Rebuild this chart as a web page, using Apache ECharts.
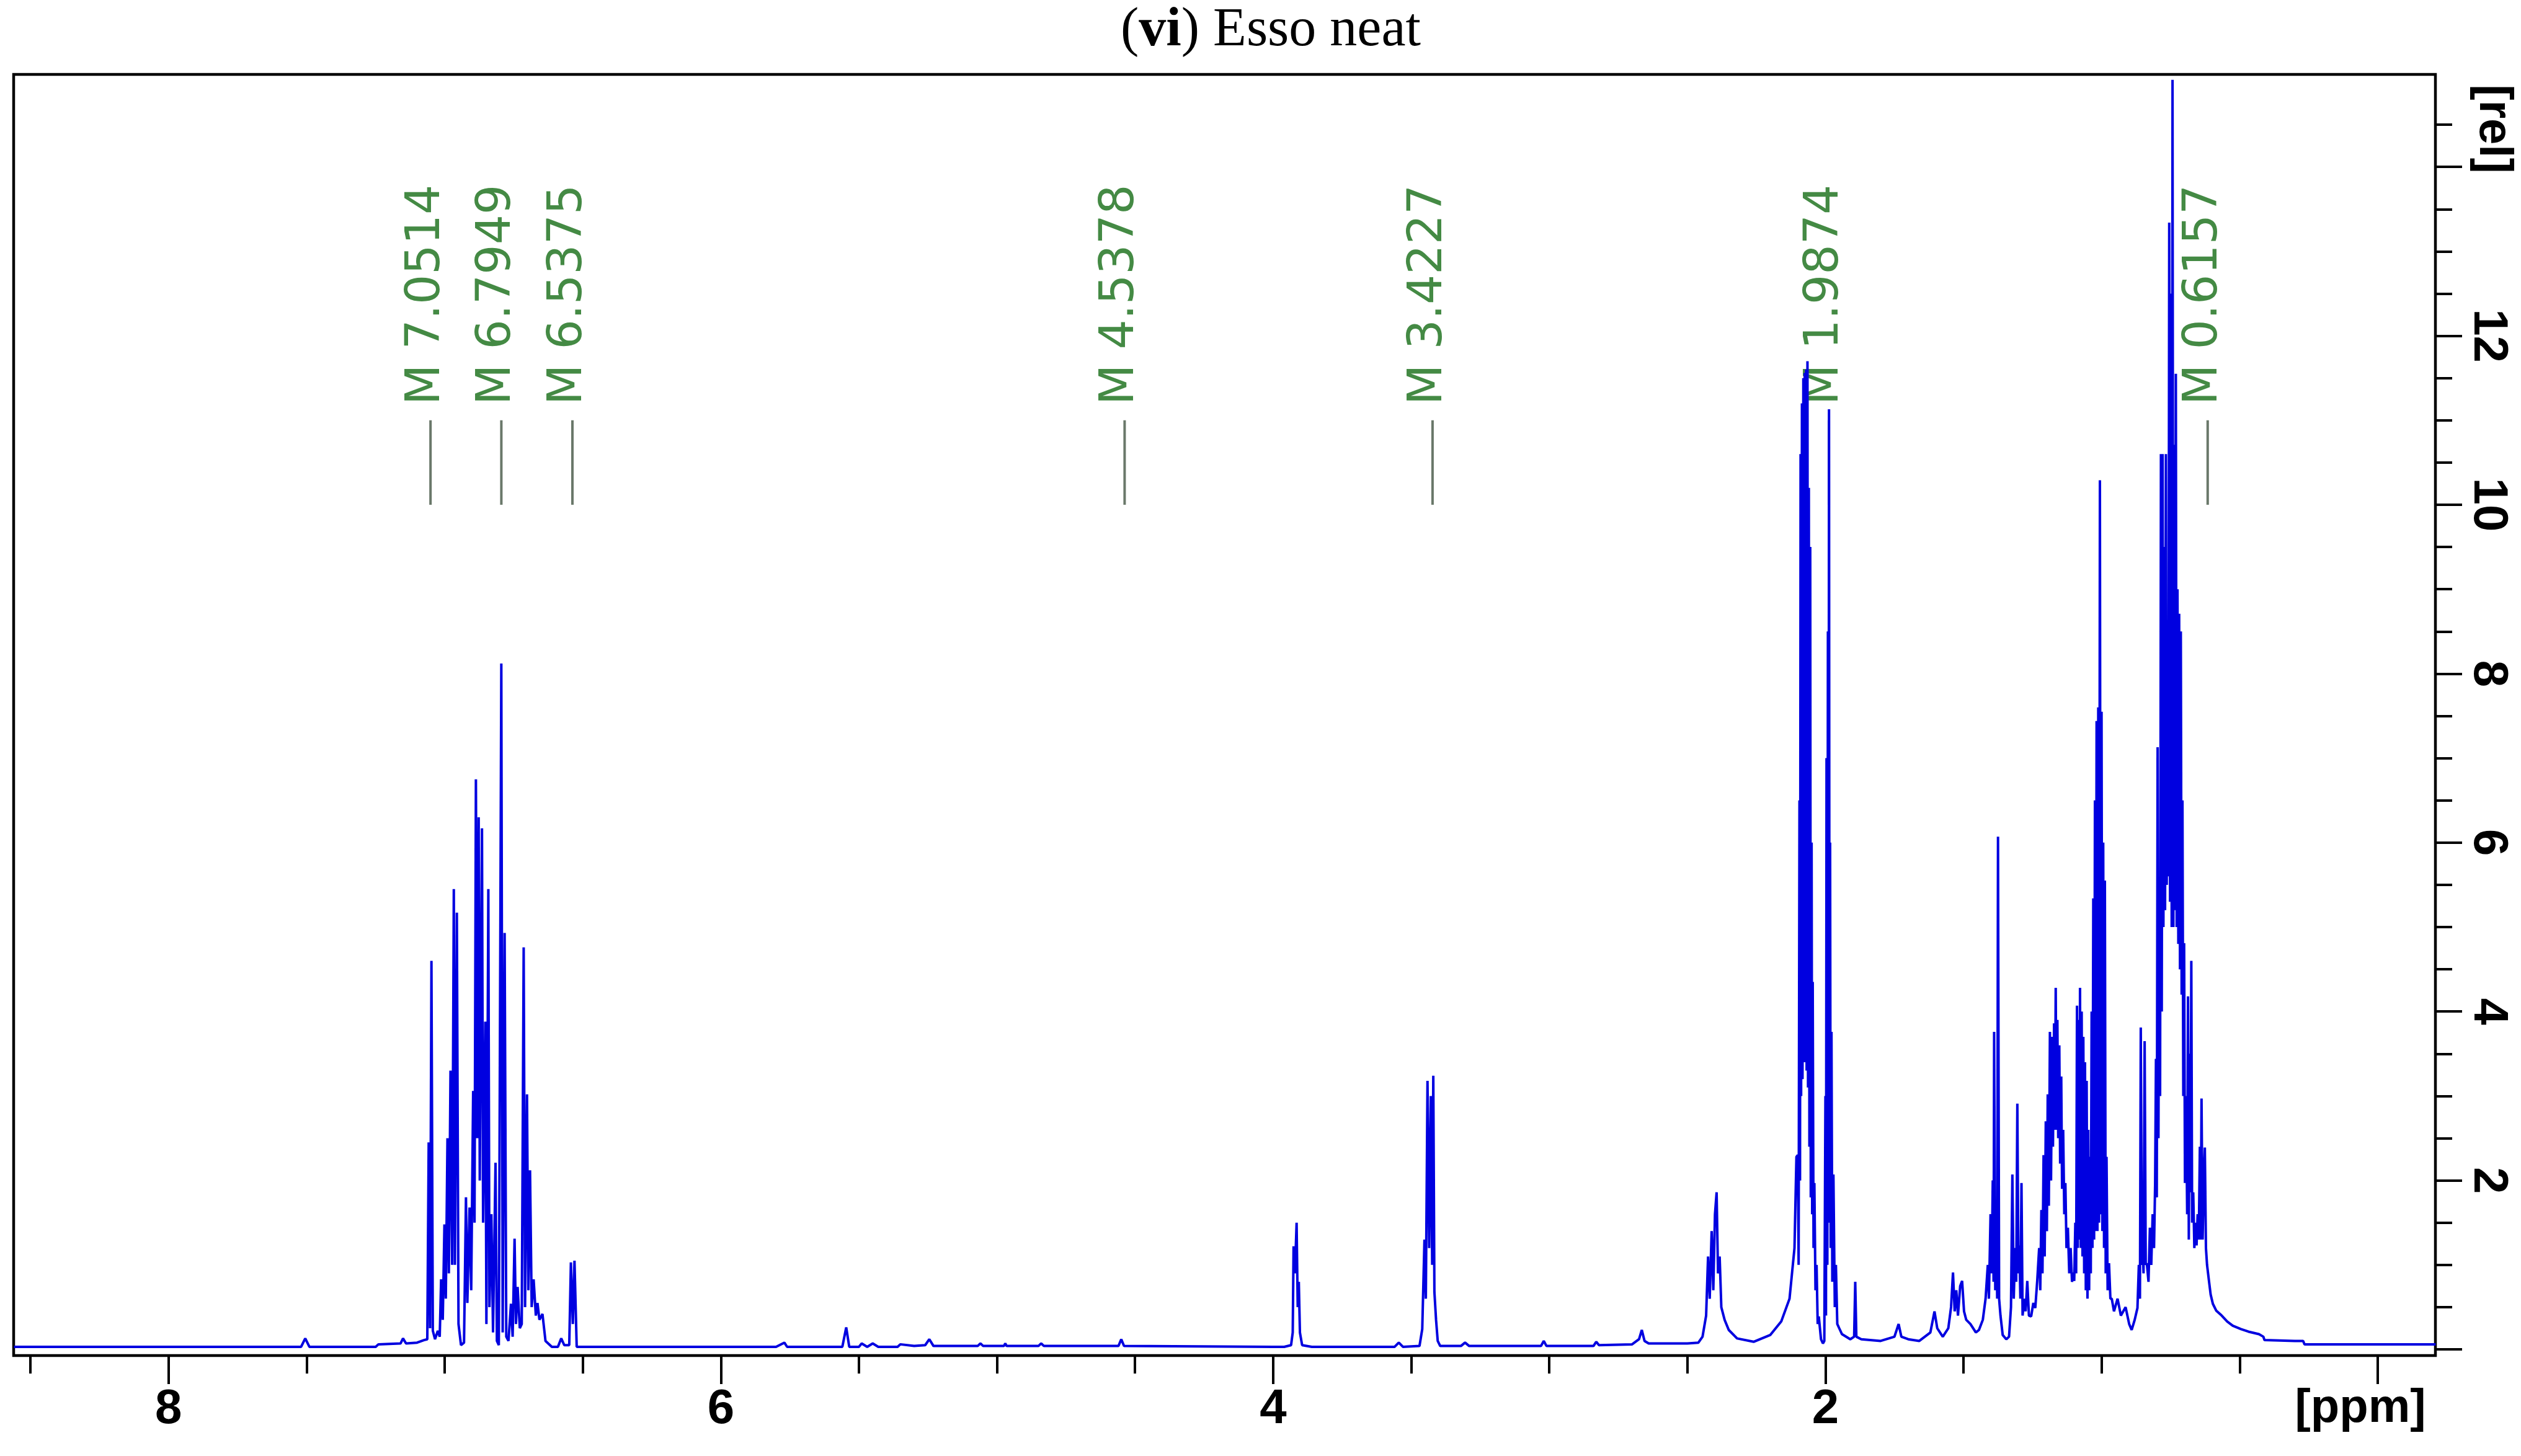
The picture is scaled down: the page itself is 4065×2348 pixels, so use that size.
<!DOCTYPE html>
<html><head><meta charset="utf-8">
<script src="https://cdn.jsdelivr.net/npm/echarts@6/dist/echarts.min.js"></script>
<style>html,body{margin:0;padding:0;background:#fff}#c{width:4065px;height:2348px}</style>
</head><body><div id="c"></div>
<script>
// ---- axis ticks / labels ----
const xMajorTicks = [0, 2, 4, 6, 8];
const xLabelValues = [2, 4, 6, 8];
const xMinorTicks = [0.5, 1, 1.5, 2.5, 3, 3.5, 4.5, 5, 5.5, 6.5, 7, 7.5, 8.5];
const yMajorTicks = [0, 2, 4, 6, 8, 10, 12, 14];
const yLabelValues = [2, 4, 6, 8, 10, 12];
const yMinorTicks = [0.5, 1, 1.5, 2.5, 3, 3.5, 4.5, 5, 5.5, 6.5, 7, 7.5, 8.5, 9, 9.5, 10.5, 11, 11.5, 12.5, 13, 13.5, 14.5];
const xUnitLabel = '[ppm]';
const yUnitLabel = '[rel]';

// ---- peak markers ----
const markerShifts = [7.0514, 6.7949, 6.5375, 4.5378, 3.4227, 1.9874, 0.6157];
const markerLabels = ['M 7.0514', 'M 6.7949', 'M 6.5375', 'M 4.5378', 'M 3.4227', 'M 1.9874', 'M 0.6157'];

// ---- spectrum [ppm, intensity] ----
const baseLeft = [[8.56,0.03],[7.52,0.03],[7.505,0.13],[7.49,0.03],[7.25,0.03],[7.24,0.06],[7.16,0.07],[7.151,0.13],[7.14,0.07],[7.10,0.08],[7.075,0.11]];
const aromatic = [[7.063,0.12],[7.058,2.45],[7.053,0.25],[7.048,4.60],[7.043,0.22],[7.035,0.12],[7.025,0.22],[7.018,0.15],[7.013,0.83],[7.007,0.35],[7.001,1.48],[6.996,0.6],[6.990,2.5],[6.985,0.9],[6.979,3.3],[6.973,1.0],[6.967,5.45],[6.963,1.0],[6.956,5.17],[6.950,0.3],[6.941,0.05],[6.930,0.08],[6.923,1.8],[6.918,0.55],[6.910,1.68],[6.904,0.7],[6.897,3.06],[6.892,1.5],[6.887,6.75],[6.882,2.5],[6.877,6.3],[6.873,2.0],[6.865,6.17],[6.861,1.5],[6.853,3.88],[6.849,0.3],[6.842,5.45],[6.838,0.5],[6.831,1.6],[6.825,0.2],[6.816,2.21],[6.811,0.1],[6.804,0.05],[6.795,8.12],[6.790,0.2],[6.783,4.93],[6.777,0.15],[6.769,0.1],[6.760,0.54],[6.754,0.15],[6.747,1.31],[6.742,0.3],[6.736,0.74],[6.728,0.25],[6.721,0.3],[6.714,4.76],[6.709,0.5],[6.702,3.02],[6.697,0.7],[6.691,2.12],[6.685,0.5],[6.678,0.83],[6.670,0.4],[6.664,0.55],[6.657,0.35],[6.646,0.42],[6.635,0.1],[6.612,0.03],[6.590,0.03],[6.578,0.13],[6.567,0.05],[6.549,0.05],[6.543,1.03],[6.536,0.3],[6.530,1.05],[6.522,0.03]];
const midBaseline = [[6.40,0.03],[6.0,0.03],[5.80,0.03],[5.77,0.08],[5.76,0.03],[5.56,0.03],[5.546,0.26],[5.535,0.03],[5.50,0.03],[5.49,0.07],[5.47,0.03],[5.45,0.07],[5.43,0.03],[5.36,0.03],[5.35,0.06],[5.30,0.04],[5.26,0.05],[5.245,0.12],[5.23,0.04],[5.07,0.04],[5.06,0.07],[5.05,0.04],[4.975,0.04],[4.97,0.07],[4.965,0.04],[4.85,0.04],[4.84,0.07],[4.83,0.04],[4.56,0.04],[4.55,0.12],[4.54,0.04],[4.00,0.03],[3.96,0.03]];
const peak393 = [[3.935,0.05],[3.929,0.2],[3.926,1.22],[3.921,0.9],[3.915,1.50],[3.911,0.5],[3.907,0.8],[3.903,0.2],[3.895,0.05],[3.86,0.03]];
const peak342 = [[3.56,0.03],[3.545,0.08],[3.53,0.03],[3.47,0.04],[3.460,0.24],[3.452,1.3],[3.447,0.6],[3.441,3.18],[3.435,1.2],[3.429,3.0],[3.424,1.0],[3.420,3.24],[3.416,0.68],[3.410,0.35],[3.404,0.1],[3.395,0.04]];
const midRight = [[3.32,0.04],[3.305,0.08],[3.29,0.04],[3.03,0.04],[3.02,0.1],[3.01,0.04],[2.84,0.04],[2.83,0.09],[2.82,0.05],[2.70,0.06],[2.675,0.12],[2.665,0.23],[2.655,0.1],[2.64,0.07],[2.50,0.07],[2.46,0.08]];
const group240 = [[2.445,0.15],[2.432,0.4],[2.425,1.1],[2.419,0.6],[2.412,1.4],[2.406,0.7],[2.400,1.6],[2.394,1.86],[2.389,0.9],[2.383,1.1],[2.377,0.5],[2.365,0.35],[2.35,0.23],[2.32,0.13],[2.26,0.09],[2.20,0.17],[2.16,0.33],[2.13,0.6],[2.112,1.2],[2.105,2.28]];
const peak205 = [[2.100,2.3],[2.097,1.0],[2.094,6.5],[2.092,2.0],[2.090,10.6],[2.088,3.0],[2.085,11.2],[2.083,3.2],[2.080,11.5],[2.078,3.4],[2.075,11.56],[2.073,3.4],[2.070,11.6],[2.068,3.3],[2.065,11.7],[2.063,3.1],[2.060,10.2],[2.058,2.4],[2.055,9.5],[2.053,1.8],[2.050,6.0],[2.048,1.6],[2.046,4.35],[2.043,1.2],[2.040,1.97],[2.036,0.7],[2.032,1.0],[2.028,0.3],[2.024,0.39],[2.016,0.12],[2.009,0.07]];
const peak199 = [[2.004,0.1],[2.000,3.0],[1.998,0.4],[1.996,7.0],[1.993,1.0],[1.991,8.5],[1.989,1.5],[1.987,11.13],[1.985,2.0],[1.983,6.0],[1.981,1.2],[1.978,3.76],[1.975,0.8],[1.971,2.07],[1.966,0.5],[1.962,1.0],[1.957,0.3],[1.950,0.25],[1.940,0.18]];
const region189 = [[1.91,0.12],[1.896,0.15],[1.892,0.8],[1.888,0.15],[1.87,0.12],[1.80,0.1],[1.75,0.15],[1.735,0.3],[1.725,0.15],[1.70,0.12],[1.66,0.1],[1.62,0.2],[1.605,0.45],[1.595,0.25],[1.575,0.15],[1.555,0.25]];
const region145 = [[1.545,0.5],[1.538,0.91],[1.532,0.45],[1.526,0.7],[1.52,0.4],[1.512,0.75],[1.505,0.81],[1.498,0.45],[1.49,0.35],[1.475,0.3],[1.455,0.2],[1.444,0.23],[1.43,0.35],[1.42,0.6],[1.412,1.0],[1.408,0.6],[1.402,1.6],[1.398,0.9],[1.394,2.0],[1.391,0.8],[1.389,3.76],[1.385,0.7],[1.381,1.5],[1.378,0.6],[1.375,6.07],[1.371,0.6],[1.366,0.4],[1.358,0.17],[1.345,0.12]];
const region130 = [[1.335,0.15],[1.328,0.5],[1.323,2.07],[1.318,0.6],[1.313,1.2],[1.309,0.8],[1.305,2.91],[1.301,0.9],[1.298,1.23],[1.294,0.6],[1.290,1.97],[1.286,0.4],[1.280,0.6],[1.275,0.45],[1.269,0.81],[1.263,0.4],[1.255,0.39],[1.247,0.55],[1.240,0.49],[1.233,0.81]];
const hump117 = [[1.226,1.2],[1.222,0.7],[1.218,1.65],[1.214,0.9],[1.210,2.3],[1.206,1.1],[1.202,2.7],[1.198,1.4],[1.195,3.02],[1.191,1.7],[1.187,3.76],[1.183,2.0],[1.179,3.7],[1.176,2.4],[1.172,3.86],[1.169,2.6],[1.166,4.28],[1.163,2.6],[1.160,3.9],[1.157,2.5],[1.153,3.6],[1.150,2.2],[1.146,3.23],[1.143,1.9],[1.139,2.6],[1.135,1.6],[1.131,1.97],[1.127,1.2],[1.122,1.44],[1.117,0.9],[1.112,1.2],[1.107,0.8],[1.102,0.91],[1.099,0.81]];
const region103 = [[1.095,1.5],[1.092,0.9],[1.089,4.07],[1.086,1.2],[1.083,3.9],[1.080,1.3],[1.078,4.28],[1.075,1.2],[1.072,4.0],[1.069,1.1],[1.066,3.7],[1.063,0.9],[1.060,3.4],[1.057,0.7],[1.054,3.18],[1.051,0.6],[1.048,2.6],[1.045,0.7],[1.042,2.28],[1.039,0.9],[1.036,4.0],[1.033,1.2],[1.030,5.34],[1.027,1.3],[1.024,6.5],[1.021,1.4],[1.018,7.44],[1.015,1.4],[1.012,7.6],[1.009,1.5],[1.006,10.29],[1.003,1.6],[1.000,7.55],[0.997,1.4],[0.994,6.0],[0.991,1.2],[0.988,5.55],[0.985,0.9],[0.982,2.28],[0.978,0.7],[0.973,1.02],[0.968,0.6],[0.963,0.6]];
const region085 = [[0.955,0.45],[0.942,0.6],[0.93,0.4],[0.913,0.5],[0.90,0.3],[0.891,0.23],[0.88,0.35],[0.87,0.49],[0.865,1.0],[0.861,0.6],[0.858,3.81],[0.854,1.0],[0.851,1.2],[0.848,0.9],[0.844,3.65],[0.840,1.0],[0.836,1.02],[0.830,0.8],[0.825,1.44],[0.820,1.0],[0.815,1.6],[0.810,1.2],[0.806,1.97]];
const peak074 = [[0.803,3.44],[0.800,1.8],[0.797,7.13],[0.794,2.5],[0.791,5.55],[0.788,3.0],[0.785,10.6],[0.782,4.0],[0.779,10.6],[0.776,5.0],[0.773,9.5],[0.770,5.2],[0.767,10.6],[0.764,5.5],[0.761,7.55],[0.758,5.6],[0.755,13.34],[0.752,5.3],[0.749,12.5],[0.746,5.0],[0.743,15.03],[0.740,5.0],[0.737,10.71],[0.734,5.2],[0.731,11.55],[0.728,5.0],[0.725,9.0],[0.722,4.8],[0.719,8.71],[0.716,4.5],[0.713,8.5],[0.710,4.2],[0.707,6.5],[0.704,3.0],[0.701,4.81],[0.698,1.97],[0.694,3.0],[0.690,1.6],[0.687,4.18],[0.684,1.3],[0.681,3.5],[0.678,1.86],[0.675,4.6],[0.672,1.5],[0.668,1.86],[0.664,1.2],[0.660,1.5],[0.656,1.23],[0.652,1.6],[0.648,1.3],[0.644,2.4],[0.641,1.3],[0.638,2.97],[0.634,1.3],[0.630,2.0],[0.626,2.39],[0.622,1.2],[0.618,1.0],[0.611,0.81],[0.605,0.65],[0.597,0.54],[0.585,0.46],[0.568,0.41],[0.545,0.33],[0.525,0.28],[0.495,0.24],[0.468,0.21],[0.43,0.18],[0.414,0.15],[0.41,0.11],[0.30,0.10],[0.27,0.10],[0.265,0.06],[-0.21,0.06]];

const spectrum = [].concat(baseLeft, aromatic, midBaseline, peak393, peak342, midRight, group240,
  peak205, peak199, region189, region145, region130, hump117, region103, region085, peak074);

// ---- layout ----
const X_MIN = -0.209, X_MAX = 8.561;
const Y_MIN = -0.073, Y_MAX = 15.095;
const labelFont = 'Liberation Sans';
const markerData = markerShifts.map(v => [v, 0]);

const chart = echarts.init(document.getElementById('c'), null, {renderer: 'canvas'});
chart.setOption({
  animation: false,
  backgroundColor: '#ffffff',
  grid: {left: 22, right: 138, top: 120, bottom: 162, show: true, borderColor: '#000', borderWidth: 4.5, backgroundColor: 'transparent'},
  xAxis: [
    {type: 'value', min: X_MIN, max: X_MAX, inverse: true, position: 'bottom',
     splitLine: {show: false}, axisLine: {show: false, onZero: false},
     axisTick: {show: true, customValues: xMajorTicks, length: 46, lineStyle: {color: '#000', width: 4}},
     axisLabel: {show: true, customValues: xLabelValues, margin: 48, color: '#000', fontFamily: labelFont, fontWeight: 'bold', fontSize: 78}},
    {type: 'value', min: X_MIN, max: X_MAX, inverse: true, position: 'bottom',
     splitLine: {show: false}, axisLine: {show: false, onZero: false}, axisLabel: {show: false},
     axisTick: {show: true, customValues: xMinorTicks, length: 29, lineStyle: {color: '#000', width: 4}}}
  ],
  yAxis: [
    {type: 'value', min: Y_MIN, max: Y_MAX, position: 'right',
     splitLine: {show: false}, axisLine: {show: false, onZero: false},
     axisTick: {show: true, customValues: yMajorTicks, length: 43, lineStyle: {color: '#000', width: 4}},
     axisLabel: {show: true, customValues: yLabelValues, rotate: -90, margin: 46, color: '#000', fontFamily: labelFont, fontWeight: 'bold', fontSize: 78}},
    {type: 'value', min: Y_MIN, max: Y_MAX, position: 'right',
     splitLine: {show: false}, axisLine: {show: false, onZero: false}, axisLabel: {show: false},
     axisTick: {show: true, customValues: yMinorTicks, length: 27, lineStyle: {color: '#000', width: 4}}}
  ],
  graphic: [
    {type: 'text', x: 2049, y: 50, silent: true,
     style: {text: '({b|vi}) Esso neat', fill: '#000', font: '88px "Liberation Serif"', align: 'center', verticalAlign: 'middle',
       rich: {b: {fontFamily: 'Liberation Serif', fontSize: 88, fontWeight: 'bold', fill: '#000'}}}},
    {type: 'text', x: 3806, y: 2234, silent: true,
     style: {text: xUnitLabel, fill: '#000', font: 'bold 76px "Liberation Sans"', align: 'center', verticalAlign: 'top'}},
    {type: 'text', x: 4020, y: 208, rotation: -Math.PI / 2, silent: true,
     style: {text: yUnitLabel, fill: '#000', font: 'bold 76px "Liberation Sans"', align: 'center', verticalAlign: 'middle'}}
  ],
  series: [
    {type: 'line', xAxisIndex: 0, yAxisIndex: 0, data: spectrum, showSymbol: false, symbol: 'none',
     sampling: null, clip: true, silent: true,
     lineStyle: {color: '#0000e0', width: 4, join: 'bevel'}},
    {type: 'custom', xAxisIndex: 0, yAxisIndex: 0, data: markerData, clip: false, silent: true,
     renderItem: function (params, api) {
       const v = api.value(0);
       const p0 = api.coord([v, 10.0]);
       const p1 = api.coord([v, 11.0]);
       const pt = api.coord([v, 11.18]);
       return {type: 'group', children: [
         {type: 'line', shape: {x1: p0[0], y1: p0[1], x2: p1[0], y2: p1[1]}, style: {stroke: '#6a786a', lineWidth: 4}},
         {type: 'text', x: pt[0] - 6, y: pt[1], rotation: Math.PI / 2,
          style: {text: markerLabels[params.dataIndex], fill: '#448a44', font: '76px "DejaVu Sans"', align: 'left', verticalAlign: 'middle'}}
       ]};
     }}
  ]
});
</script>
</body></html>
